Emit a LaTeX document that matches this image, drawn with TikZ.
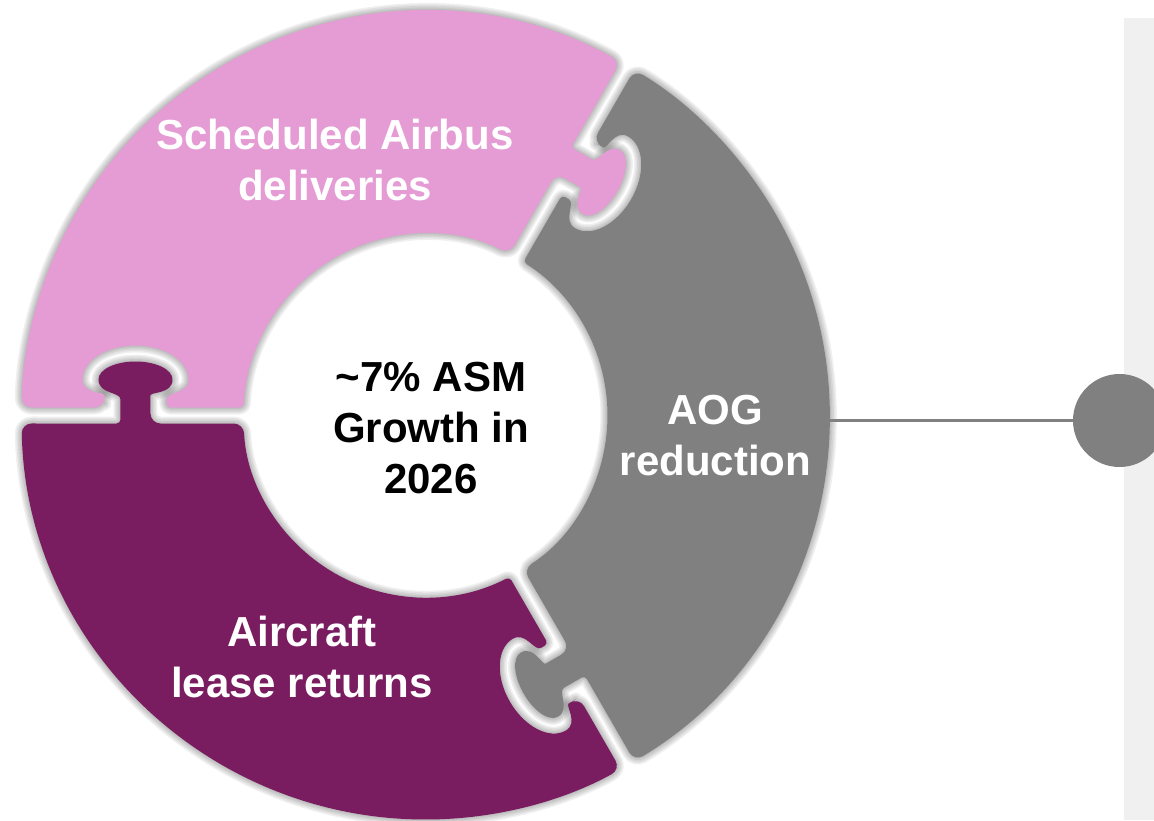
\documentclass[tikz,border=0pt]{standalone}
\usepackage{fontspec}
\setmainfont{Liberation Sans}
\usetikzlibrary{calc,positioning}

\definecolor{pinkpiece}{HTML}{E59BD3}
\definecolor{greypiece}{HTML}{808080}
\definecolor{plumpiece}{HTML}{7A1C60}
\definecolor{panelgrey}{HTML}{F0F0F0}

% edges of one piece: lower edge \ea, upper edge \eb
\newcommand{\setedges}[1]{\pgfmathsetmacro{\ea}{#1}\pgfmathsetmacro{\eb}{#1+120}}
% point s along edge #1 (from mid radius), t across it
\newcommand{\kp}[3]{($(#1:290)+(#1:#2)+({#1-90}:#3)$)}
% ring piece, socket on upper edge, tab on lower edge
\newcommand{\piecepath}{%
  [rounded corners=10pt] ({\ea+1.135}:404) arc[start angle={\ea+1.135}, end angle={\eb-1.135}, radius=404]
  -- \kp{\eb}{31}{8}
  [rounded corners=4pt] -- \kp{\eb}{31}{16}
  [sharp corners]
  .. controls \kp{\eb}{31}{24} and \kp{\eb}{53}{21} .. \kp{\eb}{53}{36}
  .. controls \kp{\eb}{53}{54.7} and \kp{\eb}{29.2}{70} .. \kp{\eb}{0}{70}
  .. controls \kp{\eb}{-29.2}{70} and \kp{\eb}{-53}{54.7} .. \kp{\eb}{-53}{36}
  .. controls \kp{\eb}{-53}{21} and \kp{\eb}{-31}{24} .. \kp{\eb}{-31}{16}
  [rounded corners=4pt] -- \kp{\eb}{-31}{8} -- ({\eb-2.519}:182)
  [rounded corners=10pt] arc[start angle={\eb-2.519}, end angle={\ea+2.519}, radius=182]
  -- \kp{\ea}{-15}{-8}
  [rounded corners=4pt] -- \kp{\ea}{-15}{16}
  [sharp corners]
  .. controls \kp{\ea}{-15}{24} and \kp{\ea}{-37}{21} .. \kp{\ea}{-37}{36}
  .. controls \kp{\ea}{-37}{46} and \kp{\ea}{-20.4}{54} .. \kp{\ea}{0}{54}
  .. controls \kp{\ea}{20.4}{54} and \kp{\ea}{37}{46} .. \kp{\ea}{37}{36}
  .. controls \kp{\ea}{37}{21} and \kp{\ea}{15}{24} .. \kp{\ea}{15}{16}
  [rounded corners=4pt] -- \kp{\ea}{15}{-8}
  [rounded corners=10pt] -- cycle}

\tikzset{
  piecelabel/.style={text=white, font=\bfseries\fontsize{42}{51}\selectfont, align=center},
  hublabel/.style={text=black, font=\bfseries\fontsize{42}{51}\selectfont, align=center},
  glow/.style={draw=black, line join=round, opacity=0.06},
}

\begin{document}
\begin{tikzpicture}[x=1pt, y=1pt]
    \useasboundingbox (-425.5,-404.5) rectangle (728.5,415.5);

    % panel at the right border
    \fill[panelgrey] (698.5,-404.5) rectangle (728.5,397.5);

    % soft shadow round the pieces
    \foreach \a in {60,-60,180}{
        \setedges{\a}
        \foreach \w in {14,11,8,5,2}
            \draw[glow, line width=\w pt] \piecepath;
    }

    % the three pieces
    \foreach \a/\c in {60/pinkpiece,-60/greypiece,180/plumpiece}{
        \setedges{\a}
        \fill[\c] \piecepath;
    }

    \node[piecelabel] (sched) at (-90.5,255.5) {Scheduled Airbus\\deliveries};
    \node[piecelabel] (aog) at (290,-20) {AOG\\reduction};
    \node[piecelabel] (lease) at (-123.5,-241) {Aircraft\\lease returns};
    \node[hublabel] (asm) at (5.5,-13) {\textasciitilde7\% ASM\\Growth in\\2026};

    % connector to the dot
    \coordinate (aogrim) at (404.5,-5);
    \node[circle, fill=greypiece, minimum size=93pt, inner sep=0pt] (dot) at (694,-5) {};
    \draw[greypiece, line width=3pt] (aogrim) -- (dot);
\end{tikzpicture}
\end{document}
